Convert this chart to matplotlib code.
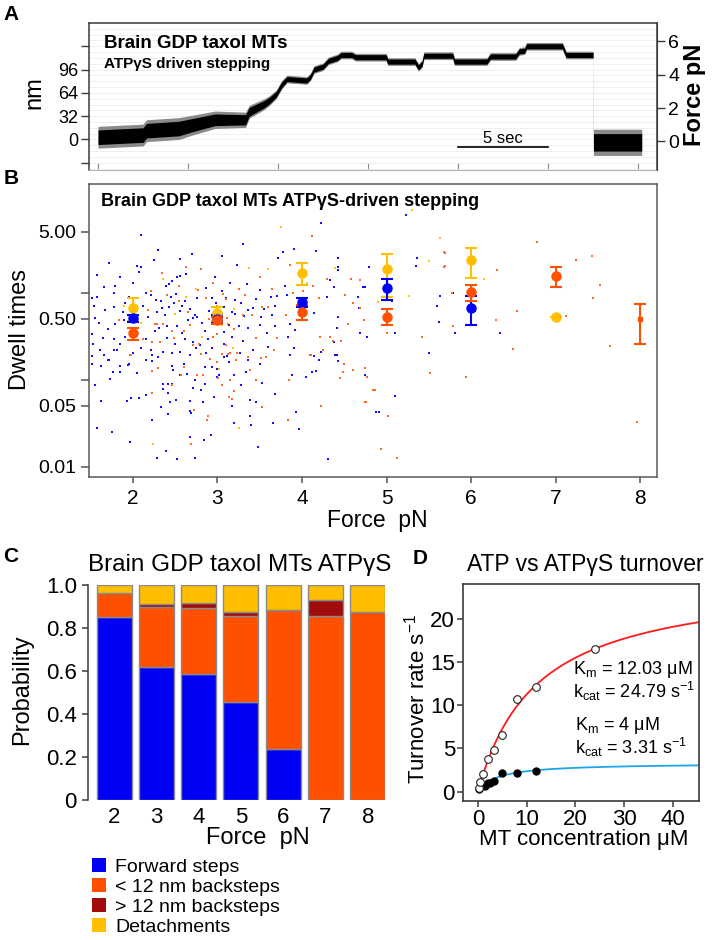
import matplotlib
matplotlib.use('Agg')
import matplotlib.pyplot as plt
import numpy as np
from matplotlib.patches import Patch
from matplotlib.ticker import NullLocator

plt.rcParams['font.family'] = ['Liberation Sans', 'DejaVu Sans']
plt.rcParams['mathtext.fontset'] = 'custom'
plt.rcParams['mathtext.rm'] = 'Liberation Sans'

# ---------------- Panel A data: optical trap trace (time s, position nm, noise half-width nm)
trace_t = [0.0, 2.5, 2.7, 4.5, 5.3, 6.5, 8.2, 8.4, 9.2, 9.5, 9.9, 10.2, 10.5, 11.6, 11.8, 12.0,
           12.5, 12.8, 13.3, 13.5, 14.1, 14.3, 16.0, 16.1, 17.6, 17.8, 18.0, 18.1, 19.7, 19.8,
           21.6, 21.8, 23.2, 23.4, 23.7, 23.8, 25.8, 26.0, 27.5, 27.52, 30.2]
trace_nm = [3, 6, 12, 15, 20, 27, 27, 38, 48, 53, 62, 75, 83, 81, 86, 96,
            100, 108, 112, 116, 116, 113, 113, 107, 107, 99, 104, 115, 115, 107,
            107, 114, 114, 121, 122, 128, 128, 116, 116, -4, -4]
trace_hw = [10, 10, 10, 10, 9, 8, 7, 6, 5, 4.5, 4, 4, 3.5, 3.5, 3.5, 3.5,
            3.5, 3.5, 3.5, 3.5, 3.5, 3.5, 3.5, 3.5, 3.5, 3.5, 3.5, 3.5, 3.5, 3.5,
            3.5, 3.5, 3.5, 3.5, 3.5, 3.5, 3.5, 3.5, 3.5, 12, 12]
nm_ticks = [-32, 0, 32, 64, 96, 128]
nm_labels = ['', '0', '32', '64', '96', '']
force_ticks = [0, 2, 4, 6]
trap_k = 0.0436      # pN per nm
trap_offset = 2.8    # nm

# ---------------- Panel B data: dwell times (force pN, dwell s)
blue_pts = [
    (2.10, 4.6), (2.25, 2.4), (2.09, 1.96), (2.07, 1.72), (2.56, 2.45), (2.52, 1.51), (2.56, 1.55),
    (2.63, 1.63), (2.46, 1.37), (2.43, 1.25), (2.39, 1.18), (1.66, 1.16), (1.79, 1.2), (1.78, 0.98),
    (1.57, 0.90), (1.51, 0.87), (1.54, 0.71), (1.67, 0.63), (1.78, 0.69), (1.91, 0.76), (2.15, 1.0),
    (2.21, 0.95), (2.27, 0.83), (2.33, 0.81), (2.34, 0.66), (2.43, 0.68), (2.45, 0.90), (2.51, 0.96),
    (2.58, 0.70), (2.56, 0.61), (2.65, 0.49), (2.71, 0.51), (2.76, 0.53), (2.73, 0.56), (2.76, 0.86),
    (2.86, 1.14), (2.93, 0.87), (3.10, 0.86), (3.17, 0.60), (3.21, 0.57), (3.31, 0.54), (3.36, 0.63),
    (3.42, 0.66), (3.55, 0.65), (3.64, 0.55), (3.70, 0.91), (3.68, 0.71), (3.50, 1.08), (3.35, 1.26),
    (3.21, 0.83), (3.08, 0.69), (3.14, 0.42), (3.08, 0.35), (3.03, 0.49), (2.89, 0.29), (2.79, 0.25),
    (2.71, 0.27), (2.56, 0.21), (2.46, 0.20), (2.36, 0.21), (2.30, 0.18), (2.21, 0.22), (2.09, 0.23),
    (1.91, 0.31), (1.85, 0.26), (1.77, 0.29), (1.61, 0.22), (1.53, 0.26), (1.51, 0.185), (1.66, 0.19),
    (1.81, 0.22), (2.16, 0.29), (2.26, 0.36), (2.40, 0.41), (2.31, 0.39), (2.04, 0.39), (1.79, 0.44),
    (1.90, 0.49), (1.55, 0.51), (2.52, 0.41), (2.58, 0.34), (2.62, 0.29), (2.67, 0.19), (2.75, 0.23),
    (2.87, 0.20), (2.93, 0.23), (3.08, 0.26), (3.17, 0.31), (3.25, 0.41), (3.36, 0.39), (3.50, 0.42),
    (3.58, 0.34), (3.68, 0.41), (3.60, 0.24), (3.42, 0.22), (3.27, 0.20), (3.11, 0.185),
    (2.05, 2.0), (3.23, 2.1), (2.97, 1.5), (3.72, 2.5), (3.63, 0.9),
    (1.55, 0.086), (1.62, 0.057), (1.57, 0.028), (1.75, 0.025), (1.96, 0.019), (1.93, 0.057),
    (1.98, 0.062), (2.07, 0.062), (2.16, 0.066), (2.22, 0.034), (2.33, 0.048), (2.29, 0.0126),
    (2.39, 0.015), (2.52, 0.0122), (2.73, 0.0124), (2.42, 0.040), (2.41, 0.070), (2.35, 0.079),
    (2.41, 0.089), (2.35, 0.089), (2.46, 0.088), (2.51, 0.059), (2.44, 0.055), (2.67, 0.044),
    (2.69, 0.041), (2.67, 0.022), (2.84, 0.020), (2.92, 0.023), (2.68, 0.057), (2.83, 0.055),
    (2.71, 0.080), (2.80, 0.075), (2.73, 0.098), (2.85, 0.088), (2.96, 0.063), (3.20, 0.032),
    (3.40, 0.030), (3.48, 0.017), (3.39, 0.038), (3.38, 0.059), (3.46, 0.056), (3.17, 0.050),
    (3.28, 0.086), (3.19, 0.112), (3.02, 0.112), (2.99, 0.133), (3.08, 0.18), (3.53, 0.091),
    (3.68, 0.068), (3.66, 0.032), (3.93, 0.043), (3.96, 0.027), (4.31, 0.0122), (4.05, 0.107),
    (3.88, 0.114), (4.12, 0.123), (4.17, 0.124), (4.42, 0.162), (4.74, 0.114), (4.88, 0.042),
    (3.34, 0.122), (2.23, 0.19), (2.22, 0.162), (1.62, 0.145), (1.73, 0.102), (1.85, 0.142),
    (1.85, 0.123), (1.76, 0.122), (1.71, 0.166), (1.94, 0.148), (1.51, 0.15), (2.46, 0.145),
    (2.47, 0.13), (2.64, 0.117), (2.56, 0.112), (2.93, 0.14), (3.0, 0.106), (3.14, 0.16),
    (3.36, 0.166), (3.50, 0.15), (4.20, 0.166), (4.41, 0.19), (3.86, 0.19), (2.0, 0.2), (1.78, 0.22),
    (5.10, 0.065), (4.91, 0.042),
    (4.22, 6.3), (5.23, 7.8), (3.91, 3.2), (4.17, 3.03), (4.43, 1.95), (4.79, 1.95), (3.80, 1.2),
    (4.74, 1.15), (4.66, 0.9), (4.29, 0.9), (4.38, 1.15), (5.36, 2.5), (5.35, 2.0), (5.63, 0.92),
    (5.79, 0.99), (5.62, 0.46), (6.05, 0.61), (3.98, 0.66), (3.86, 0.43), (3.92, 0.37), (3.84, 0.31),
    (3.82, 0.95), (4.14, 0.58), (4.43, 0.53), (4.67, 0.66), (4.69, 0.34), (4.77, 0.31), (5.10, 0.34),
    (4.41, 0.39), (4.38, 0.27), (4.23, 0.21), (4.39, 0.19), (4.14, 0.185), (3.90, 0.23), (5.50, 0.20),
    (5.81, 0.34), (3.78, 2.95), (4.43, 2.5), (4.42, 1.8), (4.33, 1.4), (4.72, 1.17), (5.07, 0.8),
    (5.60, 0.71), (6.34, 0.34),
    (1.60, 0.45), (1.70, 0.38), (1.88, 0.60), (1.95, 0.90), (2.00, 1.30), (2.12, 0.70), (2.18, 0.52),
    (2.28, 0.60), (2.38, 0.55), (2.48, 0.75), (2.62, 0.80), (2.68, 0.65), (2.82, 0.45), (2.90, 0.62),
    (2.98, 0.75), (3.05, 1.05), (3.15, 1.30), (3.28, 0.75), (3.45, 0.85), (3.52, 0.52), (1.52, 0.33),
    (1.65, 0.30), (1.72, 0.17), (1.95, 0.15), (2.05, 0.12), (2.15, 0.17), (2.50, 0.26), (2.60, 0.15),
    (2.85, 0.14), (3.30, 0.28), (1.58, 1.60), (1.72, 2.20), (1.85, 1.50), (2.30, 3.10), (2.70, 2.80),
    (3.05, 2.60), (3.30, 3.60), (2.85, 0.36), (2.40, 0.30), (1.98, 0.36),
]
orange_pts = [
    (2.34, 1.70), (2.63, 1.96), (2.81, 1.89), (2.21, 1.04), (2.55, 1.18), (2.77, 1.08), (2.86, 0.87),
    (3.07, 0.96), (3.10, 0.84), (3.26, 1.11), (3.33, 0.94), (3.41, 0.55), (3.11, 0.51), (3.13, 0.43),
    (3.53, 0.69), (3.60, 0.69), (3.64, 1.11), (2.26, 0.44), (2.29, 0.43), (2.36, 0.43), (2.46, 0.36),
    (2.48, 0.30), (2.60, 0.36), (2.71, 0.25), (2.78, 0.26), (2.95, 0.31), (3.0, 0.33), (3.10, 0.25),
    (3.23, 0.20), (3.36, 0.18), (1.98, 0.19), (2.12, 0.29), (2.22, 0.27), (2.18, 0.63), (1.83, 0.49),
    (1.97, 0.19), (2.23, 0.124), (2.30, 0.135), (2.22, 0.07), (2.46, 0.086), (2.57, 0.112),
    (2.72, 0.045), (2.69, 0.018), (2.89, 0.038), (2.88, 0.034), (2.76, 0.113), (2.83, 0.113),
    (2.80, 0.195), (2.91, 0.172), (3.05, 0.086), (3.15, 0.098), (3.14, 0.063), (3.17, 0.06),
    (3.19, 0.074), (3.22, 0.17), (3.38, 0.13), (3.52, 0.177), (3.57, 0.18), (3.53, 0.049),
    (3.85, 0.098), (3.84, 0.034), (4.23, 0.05), (4.45, 0.104), (4.49, 0.121), (4.50, 0.15),
    (4.60, 0.13), (4.74, 0.055), (4.75, 0.137), (4.77, 0.107), (4.84, 0.076), (4.10, 0.19),
    (3.67, 0.22), (3.15, 0.2), (3.05, 0.195), (3.12, 0.195), (3.01, 0.105),
    (4.12, 4.5), (3.86, 2.1), (4.58, 1.43), (4.69, 1.39), (4.29, 1.43), (4.13, 1.20), (4.01, 1.03),
    (4.20, 0.86), (4.51, 0.94), (4.60, 0.76), (4.69, 0.66), (4.73, 0.49), (4.55, 0.44), (4.33, 0.31),
    (4.46, 0.28), (4.37, 0.28), (4.21, 0.31), (4.25, 0.22), (4.11, 0.19), (5.0, 0.34), (5.42, 0.31),
    (5.79, 0.41), (5.68, 1.97), (5.68, 2.9), (3.81, 0.56), (3.89, 0.98),
    (6.78, 3.8), (7.24, 2.4), (7.43, 2.6), (6.31, 1.8), (7.53, 1.22), (7.44, 0.87), (6.54, 0.62),
    (7.12, 0.54), (6.29, 0.49), (6.50, 0.226), (7.64, 0.245), (7.96, 0.033), (5.94, 0.107),
    (5.52, 0.118), (5.02, 0.038), (4.93, 0.016), (5.12, 0.0125), (4.86, 0.076), (4.76, 0.055),
    (5.69, 2.0), (5.78, 0.99), (5.69, 2.85),
    (2.40, 0.95), (2.55, 0.80), (2.68, 0.42), (2.90, 0.50), (3.00, 0.70), (3.20, 0.38), (3.45, 0.30),
    (3.30, 0.55), (2.65, 0.60), (2.95, 1.30), (3.50, 1.50), (3.70, 0.30), (2.32, 0.27), (2.60, 0.14),
    (3.00, 0.16), (3.45, 0.10),
]
yellow_pts = [
    (2.24, 0.018), (3.26, 0.028), (3.02, 0.133), (4.39, 1.9), (5.26, 0.92), (5.30, 9.0), (5.63, 4.2),
    (6.15, 1.43), (3.75, 5.6), (3.37, 1.9), (3.60, 1.85), (1.89, 0.71), (2.63, 0.88), (3.20, 0.65),
    (2.82, 0.31), (3.18, 0.23), (2.50, 0.57), (4.06, 1.3), (4.90, 0.78), (5.50, 2.3), (2.35, 1.45),
    (2.10, 0.45), (3.05, 0.42), (2.75, 1.1),
]
# means +/- error
det_force = [2, 3, 4, 5, 6, 7]
det_mean = [0.67, 0.58, 1.70, 1.85, 2.38, 0.52]
det_err = [0.20, 0.11, 0.48, 0.95, 0.90, 0.0]
fwd_force = [2, 3, 4, 5, 6]
fwd_mean = [0.51, 0.50, 0.77, 1.13, 0.67]
fwd_err = [0.05, 0.05, 0.09, 0.30, 0.245]
back_force = [2, 3, 4, 5, 6, 7, 8]
back_mean = [0.34, 0.48, 0.60, 0.53, 1.01, 1.56, 0.50]
back_err = [0.055, 0.045, 0.115, 0.11, 0.20, 0.39, 0.24]

# ---------------- Panel C data: step-type probabilities
forces_c = ['2', '3', '4', '5', '6', '7', '8']
p_forward = [0.853, 0.619, 0.586, 0.457, 0.236, 0.0, 0.0]
p_back_small = [0.108, 0.280, 0.305, 0.400, 0.648, 0.857, 0.876]
p_back_large = [0.0, 0.011, 0.024, 0.017, 0.0, 0.073, 0.0]
p_detach = [0.039, 0.090, 0.085, 0.126, 0.116, 0.070, 0.124]
legend_labels = ['Forward steps', '< 12 nm backsteps', '> 12 nm backsteps', 'Detachments']

# ---------------- Panel D data: turnover
atp_mt = [0.15, 0.5, 1.0, 2.0, 3.2, 5.0, 8.0, 12.0, 24.0]
atp_rate = [0.4, 1.1, 2.1, 3.8, 4.85, 6.6, 10.7, 12.05, 16.5]
atpgs_mt = [0.15, 1.4, 2.0, 2.4, 3.3, 5.0, 8.0, 12.0]
atpgs_rate = [0.3, 0.7, 0.97, 1.04, 1.23, 2.12, 2.2, 2.35]
atp_km, atp_kcat = 12.03, 24.79
atpgs_km, atpgs_kcat = 4.0, 3.31

# colours
C_BLUE = '#0000f5'
C_ORANGE = '#ff5000'
C_DRED = '#a00c0c'
C_YELLOW = '#ffbf00'
SPINE = '#3a3a3a'

W, H = 713, 940
fig = plt.figure(figsize=(W / 100, H / 100), dpi=100)


def ax_px(l, t, r, b):
    return fig.add_axes([l / W, 1 - b / H, (r - l) / W, (b - t) / H])


def ftxt(x, y, s, **kw):
    kw.setdefault('ha', 'center')
    kw.setdefault('va', 'center')
    fig.text(x / W, 1 - y / H, s, **kw)


# panel letters
for lab, x, y in [('A', 11, 15), ('B', 11, 178), ('C', 11, 556), ('D', 420, 558)]:
    ftxt(x, y, lab, fontsize=15, fontweight='bold')

# ======================= Panel A =======================
axA = ax_px(89, 23, 657, 170)
t = np.array(trace_t)
nm = np.array(trace_nm)
hw = np.array(trace_hw)
axA.fill_between(t, nm - 1.5 * hw, nm + 1.5 * hw, color='#8a8a8a', lw=0, zorder=2)
axA.fill_between(t, nm - hw, nm + hw, color='black', lw=0, zorder=3)
axA.set_xlim(-0.5, 31.05)
axA.set_ylim(-42, 160)
axA.set_yticks(nm_ticks)
axA.set_yticklabels(nm_labels)
axA.set_yticks(np.arange(-40, 161, 8), minor=True)
axA.grid(which='both', axis='y', color='#ececec', lw=0.6, zorder=0)
axA.tick_params(axis='y', which='minor', length=0)
axA.tick_params(axis='y', which='major', direction='out', length=6, width=1, color=SPINE,
                labelsize=13, pad=2)
axA.set_xticks([0, 5, 10, 15, 20, 25, 30])
axA.set_xticklabels([])
axA.tick_params(axis='x', direction='in', length=5, color='#888888')
for s in ['left', 'top', 'right']:
    axA.spines[s].set_color(SPINE)
    axA.spines[s].set_linewidth(1.1)
axA.spines['bottom'].set_color('#b5b5b5')
axA.plot([20, 25], [-11, -11], color='black', lw=1.2, zorder=4)
axA.text(22.5, 1, '5 sec', ha='center', va='center', fontsize=12, zorder=4)
axF = axA.twinx()
axF.set_ylim((-42 + trap_offset) * trap_k, (160 + trap_offset) * trap_k)
axF.set_yticks(force_ticks)
axF.tick_params(axis='y', direction='out', length=6, width=1, color=SPINE, labelsize=14, pad=2)
for s in ['left', 'top', 'bottom']:
    axF.spines[s].set_visible(False)
axF.spines['right'].set_color(SPINE)
ftxt(104, 44, 'Brain GDP taxol MTs', fontsize=13.5, fontweight='bold', ha='left')
ftxt(104, 64, 'ATPγS driven stepping', fontsize=11, fontweight='bold', ha='left')
ftxt(34, 93, 'nm', fontsize=17, rotation=90)
ftxt(694, 95, 'Force pN', fontsize=17, fontweight='bold', rotation=90)

# ======================= Panel B =======================
axB = ax_px(89, 184, 657, 477)
axB.set_yscale('log')
for pts, col in [(blue_pts, '#1010ff'), (orange_pts, '#ff6a2a'), (yellow_pts, '#ffc21a')]:
    f = [p[0] for p in pts]
    d = [p[1] for p in pts]
    axB.scatter(f, d, s=3.4, marker='s', color=col, lw=0, zorder=2)
ekw = dict(fmt='o', ms=6.5, capsize=4.2, elinewidth=1.5, capthick=1.5, zorder=4)
axB.errorbar(det_force, det_mean, yerr=det_err, color=C_YELLOW, **ekw)
axB.errorbar(fwd_force, fwd_mean, yerr=fwd_err, color=C_BLUE, **ekw)
axB.errorbar(back_force[:-1], back_mean[:-1], yerr=back_err[:-1], color=C_ORANGE, **ekw)
axB.errorbar(back_force[-1:], back_mean[-1:], yerr=back_err[-1:], color=C_ORANGE,
             fmt='s', ms=3.5, capsize=4.2, elinewidth=1.5, capthick=1.5, zorder=4)
axB.set_xlim(1.48, 8.2)
axB.set_ylim(0.0076, 17.7)
axB.set_yticks([0.01, 0.05, 0.1, 0.5, 1, 5])
axB.set_yticklabels(['0.01', '0.05', '', '0.50', '', '5.00'])
axB.yaxis.set_minor_locator(NullLocator())
axB.set_xticks([2, 3, 4, 5, 6, 7, 8])
axB.tick_params(axis='y', direction='out', length=6, width=1.1, color='#555555', labelsize=14, pad=3)
axB.tick_params(axis='x', direction='out', length=4, width=1.1, color='#555555', labelsize=15, pad=5)
for s in axB.spines.values():
    s.set_color('#5a5a5a')
    s.set_linewidth(1.1)
ftxt(101, 201, 'Brain GDP taxol MTs ATPγS-driven stepping', fontsize=13, fontweight='bold', ha='left')
ftxt(20, 330, 'Dwell times', fontsize=17, rotation=90)
ftxt(377, 520, 'Force  pN', fontsize=16.5)

# ======================= Panel C =======================
pitch = 42.25
axC = ax_px(88, 585, 88 + (6.42 + 0.62) * pitch, 800)
xc = np.arange(len(forces_c))
bottom = np.zeros(len(forces_c))
handles = []
for vals, col, lab in zip([p_forward, p_back_small, p_back_large, p_detach],
                          [C_BLUE, C_ORANGE, C_DRED, C_YELLOW], legend_labels):
    axC.bar(xc, vals, bottom=bottom, width=0.83, color=col, edgecolor='#8a8a8a', lw=1, zorder=2)
    bottom = bottom + np.array(vals)
    handles.append(Patch(facecolor=col, edgecolor='none', label=lab))
axC.set_xlim(-0.62, 6.42)
axC.set_ylim(0, 1.0)
axC.set_xticks(xc)
axC.set_xticklabels(forces_c)
axC.set_yticks([0, 0.2, 0.4, 0.6, 0.8, 1.0])
axC.set_yticklabels(['0', '0.2', '0.4', '0.6', '0.8', '1.0'])
axC.tick_params(axis='x', length=0, labelsize=16, pad=5)
axC.tick_params(axis='y', direction='out', length=4, width=1.1, color=SPINE, labelsize=16, pad=4)
for s in ['top', 'right', 'bottom']:
    axC.spines[s].set_visible(False)
axC.spines['left'].set_color(SPINE)
axC.spines['left'].set_linewidth(1.1)
ftxt(240, 565, 'Brain GDP taxol MTs ATPγS', fontsize=17.5)
ftxt(22, 690, 'Probability', fontsize=17, rotation=90)
ftxt(258, 838, 'Force  pN', fontsize=17)
fig.legend(handles=handles, loc='upper left', bbox_to_anchor=(92 / W, 1 - 858 / H),
           frameon=False, fontsize=14, handlelength=0.7, handleheight=0.7, handletextpad=0.5,
           labelspacing=0.13, borderaxespad=0, borderpad=0)

# ======================= Panel D =======================
axD = ax_px(463.3, 584, 699.3, 800.7)
xs = np.linspace(0, 45.4, 300)
axD.plot(xs, atp_kcat * xs / (atp_km + xs), color='#ff1a1a', lw=1.3, zorder=2)
axD.plot(xs, atpgs_kcat * xs / (atpgs_km + xs), color='#1ea4ea', lw=1.3, zorder=2)
axD.plot(atpgs_mt, atpgs_rate, 'o', color='black', ms=5, zorder=3)
axD.plot(atp_mt, atp_rate, 'o', mfc='white', mec='#222222', mew=0.8, ms=5.5, zorder=4)
axD.set_xlim(-3, 45.4)
axD.set_ylim(-1.04, 24)
axD.set_xticks([0, 10, 20, 30, 40])
axD.set_yticks([0, 5, 10, 15, 20])
axD.tick_params(direction='out', length=4, width=1.1, color=SPINE, labelsize=16, pad=2)
for s in axD.spines.values():
    s.set_color(SPINE)
    s.set_linewidth(1.2)
ftxt(585, 565, 'ATP vs ATPγS turnover', fontsize=16.5)
ftxt(417, 699, r'Turnover rate s$^{\mathregular{-1}}$', fontsize=16, rotation=90)
ftxt(584, 839, 'MT concentration μM', fontsize=16)
ftxt(573, 681, 'K$_{\\mathregular{m}}$ = %.2f μM\nk$_{\\mathregular{cat}}$ = %.2f s$^{\\mathregular{-1}}$'
     % (atp_km, atp_kcat), fontsize=13, ha='left', linespacing=0.95)
ftxt(575, 737, 'K$_{\\mathregular{m}}$ = %g μM\nk$_{\\mathregular{cat}}$ = %.2f s$^{\\mathregular{-1}}$'
     % (atpgs_km, atpgs_kcat), fontsize=13, ha='left', linespacing=0.95)

fig.savefig('out.png', dpi=100)
